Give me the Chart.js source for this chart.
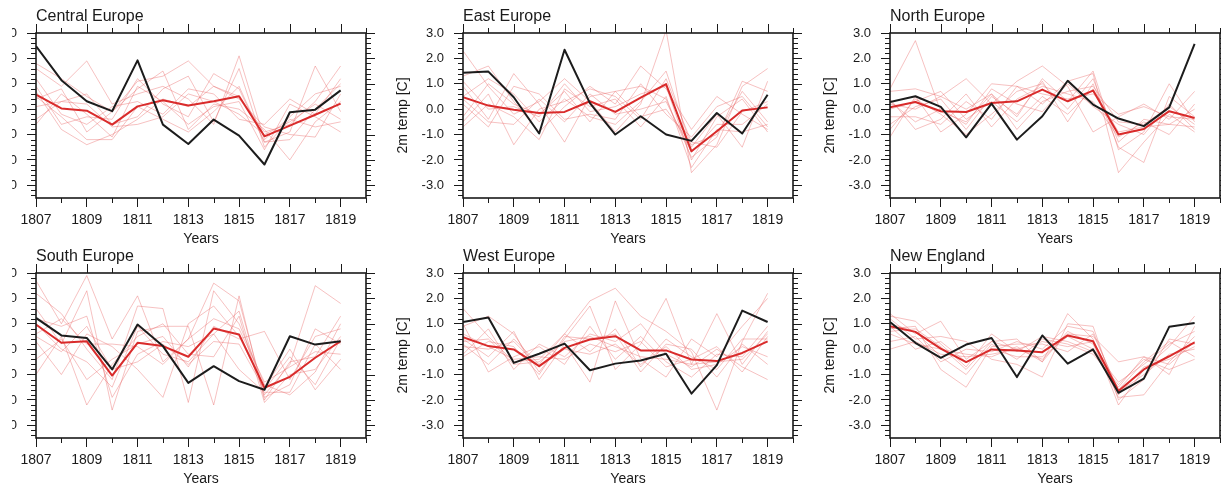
<!DOCTYPE html>
<html>
<head>
<meta charset="utf-8">
<script src="https://cdn.jsdelivr.net/npm/chart.js@4.4.1/dist/chart.umd.min.js"></script>
<style>
  html, body { margin: 0; padding: 0; background: #fff; }
  body { position: relative; width: 1221px; height: 486px; overflow: hidden; }
  canvas { position: absolute; }
</style>
</head>
<body>
<canvas id="p0" width="420" height="248"></canvas>
<canvas id="p1" width="420" height="248"></canvas>
<canvas id="p2" width="420" height="248"></canvas>
<canvas id="p3" width="420" height="248"></canvas>
<canvas id="p4" width="420" height="248"></canvas>
<canvas id="p5" width="420" height="248"></canvas>
<script>
const years = [1807, 1808, 1809, 1810, 1811, 1812, 1813, 1814, 1815, 1816, 1817, 1818, 1819];
const xTicks = [1807, 1809, 1811, 1813, 1815, 1817, 1819];
const yTicks = [-3, -2, -1, 0, 1, 2, 3];
const regions = ['Central Europe', 'East Europe', 'North Europe', 'South Europe', 'West Europe', 'New England'];

// observed (black)
const obsCentral = [2.48, 1.14, 0.31, -0.08, 1.92, -0.61, -1.37, -0.41, -1.04, -2.18, -0.12, -0.02, 0.74];
const obsEast    = [1.43, 1.48, 0.47, -0.96, 2.34, 0.24, -1.0, -0.28, -1.0, -1.25, -0.15, -0.96, 0.57];
const obsNorth   = [0.28, 0.51, 0.09, -1.11, 0.22, -1.2, -0.28, 1.12, 0.18, -0.37, -0.67, 0.07, 2.57];
const obsSouth   = [1.23, 0.54, 0.44, -0.8, 0.97, 0.12, -1.33, -0.67, -1.26, -1.6, 0.51, 0.18, 0.31];
const obsWest    = [1.07, 1.25, -0.54, -0.18, 0.22, -0.83, -0.57, -0.45, -0.18, -1.75, -0.63, 1.52, 1.07];
const obsNewEng  = [1.07, 0.25, -0.34, 0.18, 0.44, -1.1, 0.54, -0.57, -0.01, -1.72, -1.16, 0.88, 1.03];

// ensemble mean (thick red)
const meanCentral = [0.57, 0.03, -0.06, -0.61, 0.11, 0.35, 0.14, 0.31, 0.51, -1.07, -0.65, -0.22, 0.22];
const meanEast    = [0.47, 0.14, -0.02, -0.15, -0.11, 0.31, -0.11, 0.45, 0.99, -1.66, -0.87, -0.05, 0.07];
const meanNorth   = [0.07, 0.28, -0.08, -0.11, 0.24, 0.31, 0.77, 0.31, 0.73, -1.0, -0.78, -0.08, -0.35];
const meanSouth   = [0.97, 0.25, 0.31, -1.04, 0.25, 0.12, -0.3, 0.81, 0.58, -1.52, -1.09, -0.34, 0.31];
const meanWest    = [0.47, 0.12, -0.01, -0.67, 0.05, 0.38, 0.51, -0.05, -0.05, -0.41, -0.47, -0.15, 0.31];
const meanNewEng  = [0.9, 0.68, 0.02, -0.51, -0.01, -0.05, -0.12, 0.54, 0.31, -1.65, -0.8, -0.28, 0.27];

// ensemble members (thin pink)
const ensCentral = [
  [1.8, 1.2, 0.5, -0.1, 1.1, 1.3, 1.9, 0.9, 0.5, -0.9, -0.6, 0.3, 1.7],
  [1.6, 0.9, 1.9, 0.2, 0.6, 0.9, 0.4, -0.6, 2.1, -1.2, -0.3, 0.6, 0.9],
  [0.9, -0.6, -0.3, -0.4, 1.2, 0.2, -0.3, 1.4, 0.8, -1.3, -0.9, 1.7, -0.1],
  [0.4, 0.8, -0.9, -0.1, 0.8, 1.5, -0.8, 0.2, 0.0, -0.8, -2.0, -0.5, 0.3],
  [-0.4, 0.3, 0.6, -0.6, -0.3, 0.8, 1.3, -0.5, 1.6, -1.5, -0.4, -0.7, -0.5],
  [1.2, -0.2, -0.6, 0.1, 0.3, -0.2, 0.8, 0.6, -0.4, -0.6, 0.4, -0.2, 1.2],
  [-0.6, 0.6, -0.2, -1.1, 0.9, 0.3, -0.6, 0.1, 0.3, -1.6, 0.2, -0.3, -0.9],
  [0.7, -0.8, -1.4, -1.0, -0.4, 0.4, 0.1, 0.9, 0.4, -0.7, -1.0, -1.1, 0.6],
  [0.1, 0.3, 0.2, -0.7, -0.6, -0.3, 0.6, 0.3, -0.2, -1.0, -0.5, 0.2, -0.4],
  [0.5, -0.3, -1.2, -1.2, 0.1, -0.4, -0.9, -0.1, 0.9, -1.3, -1.2, 0.0, 1.0]
];
const ensEast = [
  [2.3, 0.9, -0.2, 0.3, 1.2, 0.3, -0.9, 0.2, 3.1, -2.5, -1.4, 0.9, 1.6],
  [1.3, 1.7, 0.3, -0.9, 0.1, 0.9, 0.2, 1.7, 0.8, -0.8, 0.5, -0.2, -0.8],
  [0.9, -0.4, 1.4, 0.2, -1.3, 0.5, 0.7, 0.9, 0.4, -1.9, -1.1, 1.1, 0.7],
  [0.5, 1.2, 0.6, -0.5, 0.4, -0.3, -0.6, 0.3, 1.5, -1.5, -0.2, -1.5, 1.1],
  [-0.7, 0.2, -0.3, -1.2, 0.8, 0.1, 0.4, -0.7, 0.5, -2.3, -0.8, -0.9, -0.6],
  [0.2, -0.7, 0.9, 0.6, -0.4, -0.2, -0.4, 1.0, -0.2, -1.1, 0.1, 0.5, -0.7],
  [-0.5, 0.6, -1.4, 0.0, 0.3, 0.8, 0.5, -0.4, 1.2, -1.3, -1.5, -0.1, 0.3],
  [1.1, 0.0, 0.1, -0.3, 1.0, -0.1, 0.1, 0.6, 0.9, -2.0, -0.3, 0.4, -0.9],
  [0.4, -0.5, -0.6, 0.4, -0.5, 0.6, -0.2, 0.0, 0.3, -1.7, -0.6, -0.6, 0.2],
  [-0.3, 1.0, 0.2, -0.2, 0.7, -0.5, 0.7, -0.3, 0.0, -1.4, -1.0, 0.7, -0.5]
];
const ensNorth = [
  [0.8, 2.7, -0.1, -0.5, 0.6, -0.3, 1.2, 0.3, 1.5, -1.6, -0.9, 1.0, -0.5],
  [0.7, 0.8, 0.5, 1.2, 0.2, 1.1, 1.7, 0.9, -0.9, -0.3, 0.2, -0.4, 0.7],
  [-1.1, 0.5, -0.9, -0.2, 1.0, 0.9, 0.2, 1.1, 1.4, -2.5, -1.3, -0.2, -0.9],
  [-0.6, 0.1, 0.4, -0.8, 0.5, -0.2, 1.1, -0.5, 1.0, -1.5, -2.1, 0.5, -0.3],
  [0.4, -0.8, -0.4, 0.6, -0.7, 0.4, 0.9, 0.6, 0.3, -1.1, -0.5, -1.0, 0.2],
  [0.0, 0.3, 0.7, -0.4, 0.3, -0.5, 0.5, -0.2, 0.8, -0.9, -0.7, -0.6, -0.7],
  [-0.3, -0.3, -0.6, 0.3, -0.4, 0.9, 0.6, 0.4, 0.6, -0.2, 0.1, -0.3, -0.4],
  [0.3, -0.5, 0.0, -0.6, 0.8, 0.2, -0.1, 1.0, 0.1, -0.6, -1.0, 0.2, -0.8],
  [-0.8, 0.4, -0.2, -1.0, -0.2, 0.7, 1.0, 0.0, 1.2, -1.3, -0.4, -0.6, 0.0],
  [0.2, 0.0, 0.5, 0.0, 0.6, -0.8, 0.3, 0.7, 0.9, -0.5, -0.6, 0.1, -0.6]
];
const ensSouth = [
  [2.7, 1.0, 2.9, 0.4, 2.1, -0.5, 0.4, 2.6, 1.9, -1.8, -0.6, 2.5, 1.8],
  [2.2, 1.4, 0.0, -1.2, 1.7, 1.6, -2.1, 2.3, 1.0, -1.4, -1.8, -0.9, 1.0],
  [1.6, 0.2, 2.3, -2.4, 0.7, 0.9, 0.9, -2.2, 2.1, -2.0, -0.5, -0.3, 1.3],
  [0.3, -1.0, 0.6, 0.1, -0.8, -1.9, 1.0, 1.7, 0.5, -1.5, 0.0, -1.6, -0.4],
  [-0.4, 0.4, -1.2, -0.4, 0.2, 0.5, -0.7, 0.9, 0.4, 0.7, -1.2, 0.5, 0.8],
  [1.2, 0.9, 1.3, -1.9, -0.2, 0.3, 0.1, 0.6, -0.8, -1.7, -1.7, 0.2, -0.8],
  [-1.0, 0.5, -2.2, -0.6, 0.5, 1.0, -0.2, -0.3, 1.3, -2.1, -1.0, -0.8, 0.5],
  [0.6, 1.2, 0.2, 0.2, 0.1, -0.6, 0.4, 1.2, 0.8, -1.3, -0.7, -0.1, -0.2],
  [0.5, -0.1, 0.9, -0.8, -0.5, 0.2, -0.6, 0.3, 0.2, -1.6, -0.3, -1.4, 0.4],
  [1.0, 0.0, -0.5, -1.5, 0.9, -0.2, -0.5, 0.6, 1.5, -1.9, -1.4, 0.8, 0.2]
];
const ensWest = [
  [1.6, 0.5, -0.5, -0.4, 0.6, 1.9, 2.4, 1.3, 0.7, -0.1, -2.4, 0.3, 2.2],
  [0.9, 1.3, 0.6, -0.9, 0.4, 1.7, -0.8, 0.2, 2.0, -0.6, 1.4, -0.6, 0.7],
  [0.4, -0.3, 0.7, -1.2, 0.2, -1.3, 1.9, -0.4, -1.1, 0.4, -0.3, 0.9, 2.0],
  [-0.2, 0.8, -0.8, 0.2, -0.3, 0.6, 0.3, 1.0, -0.2, -0.7, 0.0, -0.7, -1.2],
  [0.2, -0.6, 0.4, -0.6, 0.6, -0.1, 0.8, -0.7, 0.4, -0.3, -0.8, 0.4, 0.4],
  [1.0, -0.9, -0.3, 0.1, -0.6, 0.9, -0.4, 0.5, -0.5, -1.1, -0.2, -0.3, 0.9],
  [-0.3, 0.3, 0.1, -1.0, 0.5, 0.4, 0.6, -0.9, 0.2, 0.0, -1.1, 0.2, -0.6],
  [0.6, 0.1, -0.4, -0.3, -0.4, 0.2, -0.1, 0.3, -0.7, -0.4, 0.1, -0.9, 0.5],
  [0.1, 0.0, 0.3, -0.7, 0.0, -0.2, 0.2, -0.6, 0.1, -0.8, -0.6, 0.1, -0.3],
  [0.3, 0.4, -0.6, -0.5, 0.3, 0.5, 0.1, -0.3, -0.4, -0.6, -0.5, -0.4, 0.6]
];
const ensNewEng = [
  [1.4, 0.6, 1.1, -0.4, 0.3, 0.4, -0.5, 1.4, 0.4, -2.2, -0.8, 0.1, 1.3],
  [1.3, 1.1, 0.2, -0.7, 0.6, -0.1, 0.5, 0.3, -0.1, -1.5, -0.3, -1.0, 0.9],
  [1.2, 0.4, 0.5, 0.3, -0.4, -0.6, -1.1, 1.0, 0.9, -2.0, -1.2, 0.4, 0.2],
  [0.8, 0.9, -0.8, -1.5, 0.1, 0.2, 0.2, -0.1, 0.6, -1.6, -0.5, 0.3, -0.3],
  [0.6, 0.2, 0.0, -0.2, -0.3, 0.1, -0.5, 0.7, 0.2, -1.9, -1.8, -0.5, 0.5],
  [1.0, 0.7, -0.3, -1.0, 0.2, -0.4, 0.4, 0.2, -0.2, -1.4, -0.4, -0.8, -0.4],
  [0.3, 0.5, -0.5, 0.0, -0.1, 0.3, 0.0, 0.9, 0.7, -1.7, -1.0, -0.2, 0.0],
  [0.9, 0.0, 0.3, -0.5, 0.0, -0.3, -0.3, 0.5, 0.0, -1.3, -0.6, 0.2, 0.7],
  [0.0, 0.3, -0.2, -0.3, -0.2, 0.0, 0.3, 0.1, 0.3, -1.8, -0.7, -0.4, 0.1],
  [0.7, 0.8, 0.1, -0.8, 0.3, 0.0, -0.4, 0.6, 0.5, -0.5, -0.3, -0.6, 0.3]
];

const obsAll = [obsCentral, obsEast, obsNorth, obsSouth, obsWest, obsNewEng];
const meanAll = [meanCentral, meanEast, meanNorth, meanSouth, meanWest, meanNewEng];
const ensAll = [ensCentral, ensEast, ensNorth, ensSouth, ensWest, ensNewEng];

// layout: plot-area corner of each panel
const plotLeft = [36, 463, 890];
const plotTop = [33, 273];
const padL = 75, padT = 33, plotW = 330, plotH = 165;
const pageClipX = 12; // the figure is cut off at the left edge

Chart.defaults.font.family = "'Liberation Sans', Arial, Helvetica, sans-serif";
Chart.defaults.color = '#1a1a1a';

function toPoints(vals) {
  return years.map((yr, i) => ({ x: yr, y: vals[i] }));
}

// box, mirrored ticks and minor ticks (NCL style)
const frame = {
  id: 'frame',
  afterDraw(chart, args, opts) {
    const { ctx, chartArea: a, scales: { x, y } } = chart;
    ctx.save();
    ctx.strokeStyle = '#1a1a1a';
    ctx.lineWidth = 1;
    ctx.beginPath();
    for (let yr = 1807; yr <= 1820; yr++) {
      const px = Math.round(x.getPixelForValue(yr)) + 0.5;
      const major = xTicks.includes(yr);
      ctx.moveTo(px, a.top);
      ctx.lineTo(px, a.top - (major ? 9 : 5));
      if (!major) {
        ctx.moveTo(px, a.bottom);
        ctx.lineTo(px, a.bottom + 5);
      }
    }
    for (let k = -17; k <= 15; k++) {
      const py = Math.round(y.getPixelForValue(k * 0.2)) + 0.5;
      const major = k % 5 === 0;
      ctx.moveTo(a.right, py);
      ctx.lineTo(a.right + (major ? 9 : 5), py);
      if (!major) {
        ctx.moveTo(a.left, py);
        ctx.lineTo(a.left - 5, py);
      }
    }
    ctx.stroke();
    ctx.lineWidth = 1.6;
    ctx.strokeRect(a.left, a.top, a.right - a.left, a.bottom - a.top);
    ctx.fillStyle = '#1a1a1a';
    ctx.font = "16px 'Liberation Sans', Arial, sans-serif";
    ctx.textBaseline = 'alphabetic';
    ctx.fillText(opts.title, a.left, a.top - 12);
    ctx.restore();
  }
};

regions.forEach((name, i) => {
  const col = i % 3, row = Math.floor(i / 3);
  const cv = document.getElementById('p' + i);
  const left = plotLeft[col] - padL;
  cv.style.left = left + 'px';
  cv.style.top = (plotTop[row] - padT) + 'px';
  if (left < pageClipX) {
    cv.style.clipPath = 'inset(0 0 0 ' + (pageClipX - left) + 'px)';
  }

  const datasets = [];
  datasets.push({
    data: toPoints(obsAll[i]), borderColor: '#1c1c1c', borderWidth: 2, order: 0
  });
  datasets.push({
    data: toPoints(meanAll[i]), borderColor: '#d92b2b', borderWidth: 2, order: 1
  });
  ensAll[i].forEach(m => {
    datasets.push({
      data: toPoints(m), borderColor: 'rgba(232, 100, 100, 0.4)', borderWidth: 1, order: 2
    });
  });

  new Chart(cv, {
    type: 'line',
    data: { datasets: datasets },
    plugins: [frame],
    options: {
      responsive: false,
      animation: false,
      devicePixelRatio: 1,
      layout: { padding: { left: 0, top: padT, right: 420 - padL - plotW, bottom: 0 } },
      elements: { point: { radius: 0 }, line: { tension: 0, borderJoinStyle: 'round' } },
      plugins: {
        legend: { display: false },
        tooltip: { enabled: false },
        frame: { title: name }
      },
      scales: {
        x: {
          type: 'linear', min: 1807, max: 1820,
          afterBuildTicks: s => { s.ticks = xTicks.map(v => ({ value: v })); },
          afterFit: s => { s.height = 248 - padT - plotH; s.paddingLeft = 0; s.paddingRight = 0; },
          ticks: { font: { size: 14 }, padding: 5, maxRotation: 0, callback: v => String(v) },
          grid: { drawOnChartArea: false, tickLength: 9, color: '#1a1a1a', lineWidth: 1 },
          border: { display: false },
          title: { display: true, text: 'Years', font: { size: 14 }, padding: { top: 0, bottom: 0 } }
        },
        y: {
          type: 'linear', min: -3.5, max: 3,
          afterBuildTicks: s => { s.ticks = yTicks.map(v => ({ value: v })); },
          afterFit: s => { s.width = padL; s.paddingTop = 0; s.paddingBottom = 0; },
          ticks: { font: { size: 13 }, padding: 10, callback: v => v.toFixed(1) },
          grid: { drawOnChartArea: false, tickLength: 9, color: '#1a1a1a', lineWidth: 1 },
          border: { display: false },
          title: { display: true, text: '2m temp [C]', font: { size: 14 }, padding: { top: 7, bottom: 0 } }
        }
      }
    }
  });
});
</script>
</body>
</html>
